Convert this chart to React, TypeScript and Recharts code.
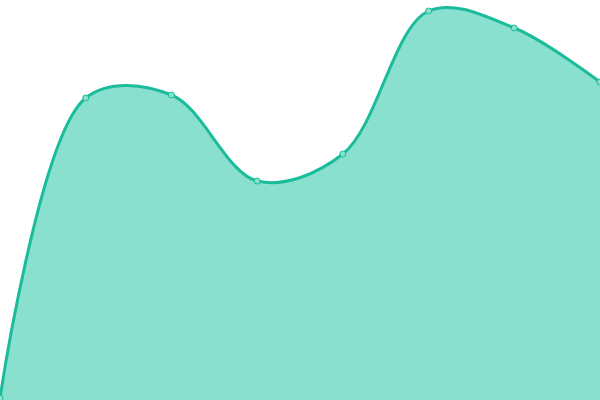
import { AreaChart, Area, XAxis, YAxis } from "recharts";

const labels = ["A", "B", "C", "D", "E", "F", "G", "H"];
const values = [2, 302, 305, 219, 246, 389, 372, 318];

const data = labels.map((name, i) => ({ name, value: values[i] }));

// centripetal catmull-rom, same maths as d3's curveCatmullRom (alpha 0.5)
function catmullRom(context: any) {
  const alpha = 0.5;
  const s: any = { _line: NaN };
  const seg = (x: number, y: number) => {
    let x1 = s.x1, y1 = s.y1, x2 = s.x2, y2 = s.y2;
    if (s.l01a > 1e-12) {
      const a = 2 * s.l012a + 3 * s.l01a * s.l12a + s.l122a;
      const n = 3 * s.l01a * (s.l01a + s.l12a);
      x1 = (x1 * a - s.x0 * s.l122a + s.x2 * s.l012a) / n;
      y1 = (y1 * a - s.y0 * s.l122a + s.y2 * s.l012a) / n;
    }
    if (s.l23a > 1e-12) {
      const b = 2 * s.l232a + 3 * s.l23a * s.l12a + s.l122a;
      const m = 3 * s.l23a * (s.l23a + s.l12a);
      x2 = (x2 * b + s.x1 * s.l232a - x * s.l122a) / m;
      y2 = (y2 * b + s.y1 * s.l232a - y * s.l122a) / m;
    }
    context.bezierCurveTo(x1, y1, x2, y2, s.x2, s.y2);
  };
  const curve: any = {
    areaStart() { s._line = 0; },
    areaEnd() { s._line = NaN; },
    lineStart() {
      s.x0 = s.x1 = s.x2 = s.y0 = s.y1 = s.y2 = NaN;
      s.l01a = s.l12a = s.l23a = s.l012a = s.l122a = s.l232a = 0;
      s.point = 0;
    },
    lineEnd() {
      if (s.point === 2) context.lineTo(s.x2, s.y2);
      else if (s.point === 3) curve.point(s.x2, s.y2);
      if (s._line || (s._line !== 0 && s.point === 1)) context.closePath();
      s._line = 1 - s._line;
    },
    point(x: number, y: number) {
      x = +x; y = +y;
      if (s.point) {
        const dx = s.x2 - x, dy = s.y2 - y;
        s.l232a = Math.pow(dx * dx + dy * dy, alpha);
        s.l23a = Math.sqrt(s.l232a);
      }
      if (s.point === 0) {
        s.point = 1;
        s._line ? context.lineTo(x, y) : context.moveTo(x, y);
      } else if (s.point === 1) {
        s.point = 2;
      } else {
        s.point = 3;
        seg(x, y);
      }
      s.l01a = s.l12a; s.l12a = s.l23a;
      s.l012a = s.l122a; s.l122a = s.l232a;
      s.x0 = s.x1; s.x1 = s.x2; s.x2 = x;
      s.y0 = s.y1; s.y1 = s.y2; s.y2 = y;
    },
  };
  return curve;
}

export default function App() {
  return (
    <div style={{ position: "fixed", top: 0, left: 0, width: 600, height: 400, background: "#fff" }}>
      <AreaChart width={600} height={400} data={data} margin={{ top: 0, right: 0, bottom: 0, left: 0 }}>
        <XAxis dataKey="name" hide padding={{ left: 0, right: 0 }} />
        <YAxis hide domain={[0, 400]} />
        <Area
          type={catmullRom as any}
          dataKey="value"
          stroke="#1abc9c"
          strokeWidth={3}
          fill="#8ae0cf"
          fillOpacity={1}
          dot={{ r: 3, fill: "#8ae0cf", stroke: "#1abc9c", strokeWidth: 1, fillOpacity: 1 }}
          activeDot={false}
          isAnimationActive={false}
        />
      </AreaChart>
    </div>
  );
}
